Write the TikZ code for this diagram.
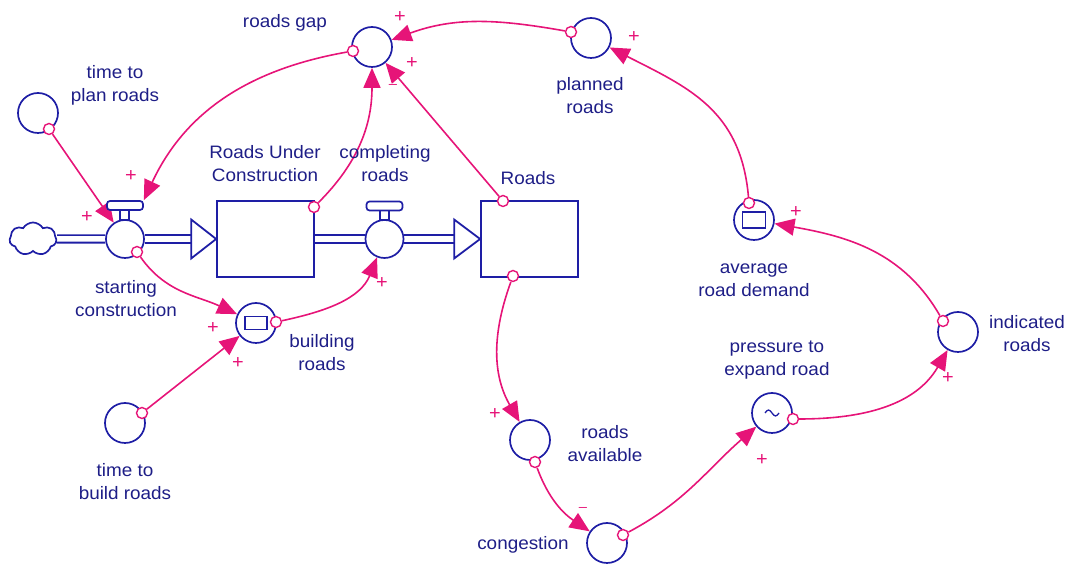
\documentclass[tikz,border=0pt]{standalone}
\usepackage{fontspec}
\setmainfont{Liberation Sans}[FakeStretch=1.05]
\usetikzlibrary{arrows.meta,shapes.symbols,backgrounds}

\definecolor{flowblue}{RGB}{30,30,165}
\definecolor{labelblue}{RGB}{30,30,135}
\definecolor{linkpink}{RGB}{230,20,120}

\tikzset{
  every node/.style={font=\fontsize{18}{23}\selectfont, text=labelblue},
  lbl/.style={align=center, inner sep=0pt},
  var/.style={circle, draw=flowblue, fill=white, line width=1.7pt, minimum size=40pt, inner sep=0pt},
  valve/.style={circle, draw=flowblue, fill=white, line width=1.7pt, minimum size=38pt, inner sep=0pt},
  valvebar/.style={rectangle, rounded corners=3pt, draw=flowblue, fill=white, line width=1.7pt, minimum width=36pt, minimum height=9pt, inner sep=0pt},
  valvestem/.style={rectangle, draw=flowblue, fill=white, line width=1.7pt, minimum width=9pt, minimum height=10pt, inner sep=0pt},
  stock/.style={rectangle, draw=flowblue, fill=white, line width=1.7pt, minimum width=97pt, minimum height=76pt, inner sep=0pt},
  auxbox/.style={rectangle, draw=flowblue, line width=1.6pt, inner sep=0pt},
  origin/.style={circle, draw=linkpink, fill=white, line width=1.4pt, minimum size=11pt, inner sep=0pt},
  link/.style={draw=linkpink, line width=1.6pt, -{Triangle[length=20pt,width=17pt]}},
  pol/.style={text=linkpink, font=\fontsize{19}{19}\selectfont, inner sep=0pt},
  neg/.style={text=linkpink, font=\fontsize{14}{14}\selectfont, inner sep=0pt},
  pipe/.style={draw=flowblue, double=white, double distance=5.5pt, line width=1.8pt},
  pipehead/.style={draw=flowblue, fill=white, line width=1.8pt, line join=miter},
}

\begin{document}
\begin{tikzpicture}[x=1pt, y=1pt]
\useasboundingbox (0,0) rectangle (1072,564);

% ---- stock-and-flow chain ----
\node[cloud, cloud puffs=7, cloud puff arc=120, aspect=1.5, draw=flowblue, fill=white,
      line width=1.7pt, minimum width=47pt, minimum height=33pt, inner sep=0pt] (src) at (33,325) {};
\node[valve] (v1) at (125,325) {};
\node[valvestem] (v1s) at (124.5,349.5) {};
\node[valvebar] (v1b) at (125,358.5) {};
\node[stock] (ruc) at (265.5,325) {};
\node[valve] (v2) at (384.5,325) {};
\node[valvestem] (v2s) at (384.5,349.5) {};
\node[valvebar] (v2b) at (384.5,358) {};
\node[stock] (rd) at (529.5,325) {};

\node[lbl] (v1l) at (126,265) {starting\\construction};
\node[lbl] (rucl) at (265,400) {Roads Under\\Construction};
\node[lbl] (v2l) at (385,400) {completing\\roads};
\node[lbl] (rdl) at (528,386) {Roads};

% ---- auxiliaries ----
\node[var] (tpr) at (38,451) {};
\node[lbl] (tprl) at (115,479) {time to\\plan roads};
\node[var] (rg) at (372,517) {};
\node[lbl] (rgl) at (285,541) {roads gap};
\node[var] (pr) at (591,526) {};
\node[lbl] (prl) at (590,468) {planned\\roads};
\node[var] (br) at (256,241) {};
\node[auxbox, minimum width=22pt, minimum height=13pt] (brbox) at (br.center) {};
\node[lbl] (brl) at (322,211) {building\\roads};
\node[var] (tbr) at (125,141) {};
\node[lbl] (tbrl) at (125,82) {time to\\build roads};
\node[var] (ra) at (530,124) {};
\node[lbl] (ral) at (605,120) {roads\\available};
\node[var] (cg) at (607,21) {};
\node[lbl] (cgl) at (523,19) {congestion};
\node[var] (pte) at (772,151) {};
\draw[flowblue, line width=1.3pt] ([xshift=-7pt]pte.center) sin ++(3.5,3) cos ++(3.5,-3) sin ++(3.5,-3) cos ++(3.5,3);
\node[lbl] (ptel) at (777,204) {pressure to\\expand road};
\node[var] (ir) at (958,232) {};
\node[lbl] (irl) at (1027,230) {indicated\\roads};
\node[var] (ard) at (754,344) {};
\node[auxbox, minimum width=23pt, minimum height=16pt] (ardbox) at (ard.center) {};
\node[lbl] (ardl) at (754,284) {average\\road demand};

% ---- link origins ----
\node[origin] (tpro) at (49,435) {};
\node[origin] (v1o) at (137,312) {};
\node[origin] (rgo) at (353,513) {};
\node[origin] (pro) at (571,532) {};
\node[origin] (ruco) at (314,357) {};
\node[origin] (rdo1) at (503,363) {};
\node[origin] (rdo2) at (513,288) {};
\node[origin] (bro) at (276,242) {};
\node[origin] (tbro) at (142,151) {};
\node[origin] (rao) at (535,102) {};
\node[origin] (cgo) at (623,29) {};
\node[origin] (pteo) at (793,145) {};
\node[origin] (iro) at (943,243) {};
\node[origin] (ardo) at (749,361) {};

% ---- pipes, flow heads and links below the symbols ----
\begin{pgfonlayer}{background}
\draw[pipe] (src.east) -- (v1.west);
\draw[pipe] (v1.east) -- ([xshift=-25pt]ruc.west);
\draw[pipe] (ruc.east) -- (v2.west);
\draw[pipe] (v2.east) -- ([xshift=-26pt]rd.west);

\draw[link] (tpro) -- (v1);
\draw[link] (rgo) to[out=190,in=65] (v1b.north east);
\draw[link] (v1o) to[out=-55,in=155] (br);
\draw[link] (tbro) -- (br);
\draw[link] (bro) to[out=12,in=248] (v2);
\draw[link] (ruco) to[out=45,in=270] (rg);
\draw[link] (rdo1) -- (rg);
\draw[link] (pro) to[out=170,in=20] (rg);
\draw[link] (ardo) to[out=95,in=-27,looseness=1.1] (pr);
\draw[link] (iro) to[out=120,in=-10] (ard);
\draw[link] (pteo) to[out=0,in=240] (ir);
\draw[link] (cgo) to[out=28,in=221] (pte);
\draw[link] (rdo2) to[out=250,in=120] (ra);
\draw[link] (rao) to[out=-70,in=146] (cg);
\end{pgfonlayer}

% hollow flow arrowheads
\draw[pipehead] ([xshift=-25pt,yshift=19.5pt]ruc.west) -- (ruc.west) -- ([xshift=-25pt,yshift=-19.5pt]ruc.west) -- cycle;
\draw[pipehead] ([xshift=-26pt,yshift=19.5pt]rd.west) -- (rd.west) -- ([xshift=-26pt,yshift=-19.5pt]rd.west) -- cycle;

% ---- polarities ----
\node[pol] (p1) at (87,347) {+};
\node[pol] (p2) at (131,388) {+};
\node[pol] (p3) at (213,236) {+};
\node[pol] (p4) at (238,201) {+};
\node[pol] (p5) at (382,281) {+};
\node[pol] (p6) at (412,501) {+};
\node[neg] (p7) at (393,478) {–};
\node[pol] (p8) at (400,547) {+};
\node[pol] (p9) at (634,527) {+};
\node[pol] (p10) at (796,352) {+};
\node[pol] (p11) at (948,186) {+};
\node[pol] (p12) at (762,104) {+};
\node[pol] (p13) at (495,150) {+};
\node[neg] (p14) at (583,55) {–};
\end{tikzpicture}
\end{document}
